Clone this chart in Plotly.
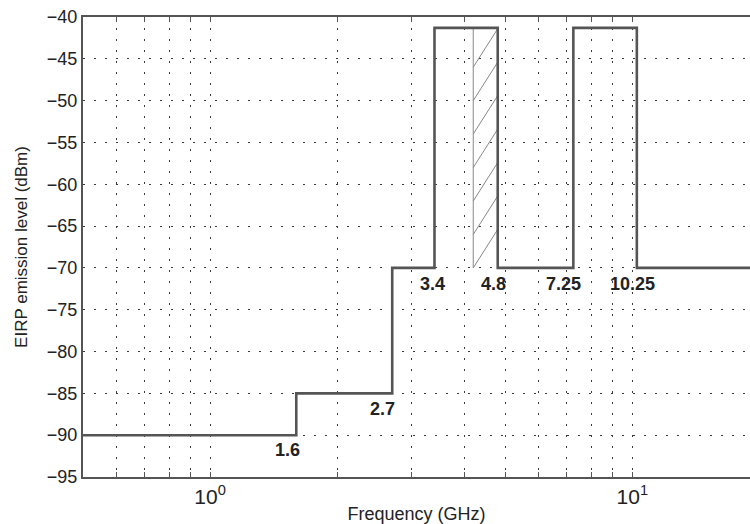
import numpy as np
import plotly.graph_objects as go

# ---- data ----
step_freq = [0.5, 1.6, 2.7, 3.4, 4.8, 7.25, 10.25, 19.0]      # GHz breakpoints
step_level = [-90, -85, -70, -41.3, -70, -41.3, -70, -70]     # dBm (hv step)
label_freq = [1.6, 2.7, 3.4, 4.8, 7.25, 10.25]
label_text = ["1.6", "2.7", "3.4", "4.8", "7.25", "10.25"]
label_level = [-91.8, -86.9, -71.9, -71.9, -71.9, -71.9]
hatch_band = [4.2, 4.8]
hatch_low, hatch_high = -70, -41.3
hatch_starts = [-70, -66, -62, -58, -54, -50, -46]
hatch_rise = 4.6
x_grid = [0.6, 0.7, 0.8, 0.9, 1, 2, 3, 4, 5, 6, 7, 8, 9, 10]
x_tick_text = ["", "", "", "", "10<sup>0</sup>", "", "", "", "", "", "", "", "", "10<sup>1</sup>"]
y_ticks = list(range(-95, -39, 5))

LINE = "#555555"
GRID = "#3a3a3a"
FONT = "Liberation Sans, Arial, sans-serif"

fig = go.Figure()

# hatched region
hx, hy = [], []
for s in hatch_starts:
    hx += [hatch_band[0], hatch_band[1], None]
    hy += [s, min(s + hatch_rise, hatch_high), None]
fig.add_trace(go.Scatter(x=hx, y=hy, mode="lines",
                         line=dict(color="#888888", width=1), hoverinfo="skip", showlegend=False))
fig.add_trace(go.Scatter(x=[hatch_band[0], hatch_band[0]], y=[hatch_low, hatch_high], mode="lines",
                         line=dict(color="#888888", width=1), hoverinfo="skip", showlegend=False))

# step mask
fig.add_trace(go.Scatter(x=step_freq, y=step_level, mode="lines", line_shape="hv",
                         line=dict(color=LINE, width=2.6), showlegend=False))

label_shift = [-9, -10, -2, -4, -10, -4]
for f, t, lv, sh in zip(label_freq, label_text, label_level, label_shift):
    fig.add_annotation(x=np.log10(f), y=lv, text="<b>%s</b>" % t, showarrow=False,
                       xanchor="center", yanchor="middle", xshift=sh,
                       font=dict(family=FONT, size=18, color="#222222"))

fig.update_xaxes(type="log", range=[np.log10(0.5), np.log10(19.0)],
                 tickmode="array", tickvals=x_grid, ticktext=x_tick_text,
                 ticks="inside", ticklen=5, tickcolor=LINE, tickwidth=1,
                 showline=True, linecolor=LINE, linewidth=2, mirror="ticks",
                 showgrid=True, gridcolor=GRID, gridwidth=1, griddash="2px,9px",
                 zeroline=False, automargin=False,
                 tickfont=dict(family=FONT, size=21, color="#222222"),
                 title=dict(text="Frequency (GHz)",
                            font=dict(family=FONT, size=18, color="#222222")))
fig.update_yaxes(range=[-95, -40], tickmode="array", tickvals=y_ticks,
                 ticks="", showline=True, linecolor=LINE, linewidth=2,
                 showgrid=True, gridcolor=GRID, gridwidth=1, griddash="2px,9px",
                 zeroline=False, automargin=False,
                 tickfont=dict(family=FONT, size=18, color="#222222"),
                 title=dict(text="EIRP emission level (dBm)",
                            font=dict(family=FONT, size=17, color="#222222")))

fig.update_layout(width=750, height=524,
                  margin=dict(l=83, r=0, t=17, b=47),
                  plot_bgcolor="white", paper_bgcolor="white")

fig.write_html("out.html")
